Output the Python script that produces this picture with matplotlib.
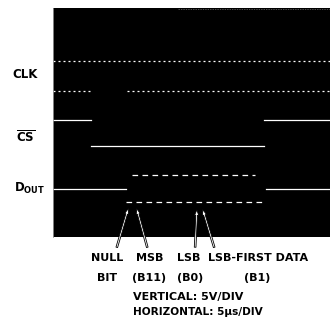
import matplotlib
matplotlib.use('Agg')
from matplotlib import pyplot as plt
from matplotlib.patches import FancyArrowPatch

# scope trace: time in us (5us/div, 10 div), level in div from top (8 div)
clk_high = 1.85
clk_low = 2.90
cs_high = 3.92
cs_low = 4.83
dout_high = 6.33
dout_top = 5.84
dout_low = 6.78

clk_low_gap = (6.9, 13.4)
cs_fall, cs_rise = 6.86, 38.1
dout_fall, dout_rise = 13.2, 38.4
dout_top_span = (14.3, 36.5)
dout_low_span = (13.2, 37.9)

labels_left = ['CLK', r'$\overline{\mathrm{CS}}$', r'D$_{\mathrm{OUT}}$']
labels_left_x = [25, 26, 30]
labels_left_y = [75, 137, 188]

W, H = 330, 321
plt.rcParams['font.family'] = ['Liberation Sans Narrow', 'DejaVu Sans']
plt.rcParams['font.weight'] = 'bold'
plt.rcParams['mathtext.fontset'] = 'custom'
plt.rcParams['mathtext.rm'] = 'Liberation Sans Narrow:bold'
plt.rcParams['mathtext.it'] = 'Liberation Sans Narrow:bold'
plt.rcParams['mathtext.bf'] = 'Liberation Sans Narrow:bold'

fig = plt.figure(figsize=(W/100, H/100), dpi=100)
fig.patch.set_facecolor('white')

ax = fig.add_axes([53/W, 1-237/H, 1-53/W, 229/H])
ax.set_facecolor('black')
ax.set_xlim(0, 50)
ax.set_ylim(8, 0)
ax.set_xticks([])
ax.set_yticks([])
for s in ax.spines.values():
    s.set_visible(False)
ax.spines['left'].set_visible(True)
ax.spines['left'].set_color('#999999')
ax.spines['left'].set_linewidth(0.6)

# faint top edge trace
ax.plot([22.6, 50], [0.02, 0.02], color='#666666', lw=0.5, ls=(0, (2, 1.5)))

dot = dict(color='white', lw=0.9, ls=(0, (1.6, 2.4)))
ax.plot([0, 50], [clk_high, clk_high], **dot)
ax.plot([0, clk_low_gap[0]], [clk_low, clk_low], **dot)
ax.plot([clk_low_gap[1], 50], [clk_low, clk_low], **dot)

solid = dict(color='white', lw=0.9)
ax.plot([0, cs_fall], [cs_high, cs_high], **solid)
ax.plot([cs_fall, cs_rise], [cs_low, cs_low], **solid)
ax.plot([cs_rise, 50], [cs_high, cs_high], **solid)

ax.plot([0, dout_fall], [dout_high, dout_high], **solid)
ax.plot([dout_rise, 50], [dout_high, dout_high], **solid)
dash = dict(color='white', lw=0.9, ls=(0, (4.5, 3.5)))
ax.plot(dout_top_span, [dout_top, dout_top], **dash)
ax.plot(dout_low_span, [dout_low, dout_low], **dash)


def fp(x, y):
    return (x / W, 1 - y / H)


for lab, x, y in zip(labels_left, labels_left_x, labels_left_y):
    fig.text(*fp(x, y), lab, ha='center', va='center', fontsize=8.5)

bottom_text = [
    ('NULL', 107, 258), ('MSB', 150, 258), ('LSB', 189, 258),
    ('LSB-FIRST DATA', 258, 258),
    ('BIT', 107, 278), ('(B11)', 149, 278), ('(B0)', 190, 278), ('(B1)', 257, 278),
]
for t, x, y in bottom_text:
    fig.text(*fp(x, y), t, ha='center', va='center', fontsize=8)
fig.text(*fp(133, 297), 'VERTICAL: 5V/DIV', ha='left', va='center', fontsize=8)
fig.text(*fp(133, 312), 'HORIZONTAL: 5\u00b5s/DIV', ha='left', va='center', fontsize=7.6)

arrows = [((116, 250), (129, 206)), ((148, 250), (136, 206)),
          ((195, 250), (197, 207)), ((215, 250), (202, 207))]
for (x0, y0), (x1, y1) in arrows:
    fig.patches.append(FancyArrowPatch(
        fp(x0, y0), fp(x1, y1), transform=fig.transFigure,
        arrowstyle='simple,head_length=4,head_width=3,tail_width=1.2',
        fc='white', ec='black', lw=0.6))

fig.savefig('out.png', dpi=100, facecolor='white')
